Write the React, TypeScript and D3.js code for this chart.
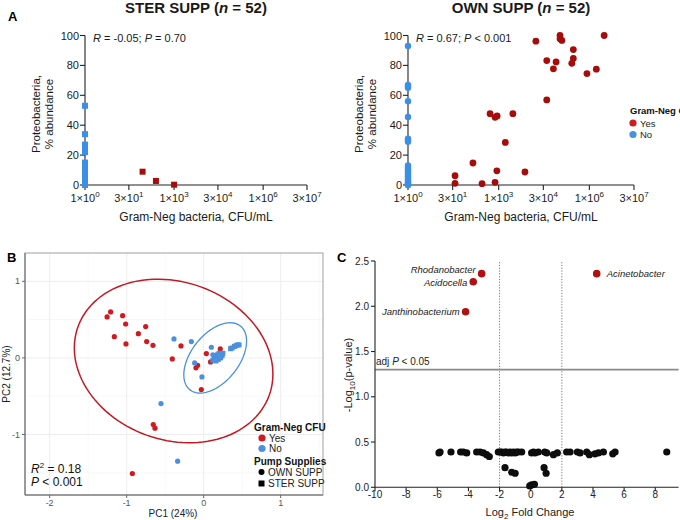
import React from 'react';
import * as d3 from 'd3';

// ---------- Panel A data ----------
const xTickVals = [1, 30, 1000, 3e4, 1e6, 3e7];
const xTickMant = ['1', '3', '1', '3', '1', '3'];
const xTickExp = ['0', '1', '3', '4', '6', '7'];
const yTicksA = [0, 20, 40, 60, 80, 100];

const sterNoY = [53, 34, 27, 26, 25, 24, 23, 22, 15, 14.5, 14, 13.5, 13, 12.5, 12, 11.5, 11, 10.5, 10, 9.5, 9, 8.5, 8, 7.5, 7, 6.5, 6, 5.5, 5, 4.5, 4, 3.5, 3, 2.5, 2, 1.8, 1.5, 1.2, 1, 0.8, 0.6, 0.5, 0.4, 0.3, 0.2, 0.1, 0, 0, 0];
const sterYesX = [87, 245, 1000];
const sterYesY = [8.9, 2.7, 0.2];

const ownNoY = [93, 67, 66, 65, 56, 45.5, 31, 30, 29, 13, 12, 11, 10, 9, 8, 7, 6, 5, 4, 3, 2, 1.5, 1, 0.5, 0, 0];
const ownYesX = [36, 36, 141, 282, 519, 760, 890, 760, 870, 1660, 2950, 7400, 17000, 38900, 38900, 64600, 79400, 107000, 107000, 123000, 295000, 295000, 263000, 832000, 1700000, 3090000];
const ownYesY = [6.2, 1.1, 14.7, 0.9, 47.7, 45.3, 46.2, 1.8, 9.5, 28.5, 47.7, 8.7, 96.2, 83.2, 56.9, 77.7, 82.3, 100, 97.8, 96.7, 90.6, 84.6, 81.4, 74.5, 77.5, 100];

// ---------- Panel B data (PCA) ----------
const pcaYesX = [-1.254, -1.208, -1.052, -1.013, -1.16, -1.009, -0.848, -0.753, -0.74, -0.658, -0.294, -0.407, 0.035, -0.078, -0.1, 0.09, 0.216, -0.03, -0.654, -0.632, -0.926];
const pcaYesY = [0.535, 0.6, 0.552, 0.443, 0.278, 0.183, 0.317, 0.409, 0.213, 0.165, 0.157, -0.013, 0.057, -0.096, -0.13, -0.052, 0.117, -0.413, -0.87, -0.917, -1.509];
const pcaNoOwnX = [-0.385, -0.16, -0.117, -0.022, -0.554, -0.338, 0.1, 0.12, 0.16, 0.2];
const pcaNoOwnY = [0.248, 0.213, -0.065, -0.248, -0.596, -1.348, 0.139, 0.04, -0.02, 0.05];
const pcaNoSterX = [0.12, 0.14, 0.15, 0.17, 0.18, 0.19, 0.2, 0.21, 0.22, 0.23, 0.24, 0.25, 0.22, 0.18, 0.16, 0.2, 0.35, 0.37, 0.4, 0.42, 0.44, 0.46];
const pcaNoSterY = [-0.03, -0.01, 0.0, 0.01, 0.02, -0.02, 0.03, 0.04, 0.01, 0.05, 0.03, 0.06, 0.0, 0.04, -0.04, 0.06, 0.12, 0.13, 0.15, 0.16, 0.17, 0.17];
// ellipses: [cx, cy, semi-major, semi-minor, angle deg]
const ellipseYes = [-0.39, -0.04, 1.32, 1.03, -20];
const ellipseNo = [0.15, 0.0, 0.53, 0.31, 52];

// ---------- Panel C data (volcano) ----------
const sigFC = [-3.15, -3.69, -4.18, 4.24];
const sigP = [2.36, 2.27, 1.94, 2.36];
const sigNames = ['Rhodanobacter', 'Acidocella', 'Janthinobacterium', 'Acinetobacter'];
const nsFC = [
  -5.89, -5.82, -5.12, -4.5, -4.33, -4.11, -3.47, -3.25, -3.04, -2.83,
  -2.66, -2.08, -1.96, -1.86, -1.75, -1.65, -1.54, -1.43, -1.32, -1.22,
  -1.1, -1.0, -0.9, -0.79, -0.58, 0.06, 0.18, 0.28, 0.49, 0.9,
  1.03, 1.46, 1.71, 2.31, 2.53, 3.0, 3.17, 3.6, 3.77, 4.13,
  4.35, 4.67, 5.27, 5.42, 8.74, -1.65, -1.22, -1.0, 0.86, 0.99,
  -0.06, 0.06, 0.24];
const nsP = [
  0.38, 0.39, 0.39, 0.39, 0.39, 0.38, 0.39, 0.39, 0.38, 0.36,
  0.34, 0.39, 0.39, 0.39, 0.38, 0.39, 0.39, 0.38, 0.39, 0.38,
  0.39, 0.38, 0.39, 0.39, 0.39, 0.38, 0.39, 0.38, 0.39, 0.39,
  0.38, 0.36, 0.38, 0.39, 0.39, 0.39, 0.38, 0.39, 0.36, 0.37,
  0.38, 0.39, 0.37, 0.39, 0.39, 0.217, 0.166, 0.155, 0.217, 0.155,
  0.015, 0.026, 0.033];
const xTicksC = [-10, -8, -6, -4, -2, 0, 2, 4, 6, 8];
const yTicksC = [0, 0.5, 1, 1.5, 2, 2.5];

const FONT = 'Liberation Sans, Arial, Helvetica, sans-serif';
const RED_A = '#a50d0d';
const BLUE_A = '#3b8fe6';
const RED_B = '#cf1b20';
const BLUE_B = '#4a90dc';

function PanelA({ left, right, title, ann, mode }: any) {
  const x = d3.scaleLog().domain([1, 3e7]).range([left, right]);
  const y = d3.scaleLinear().domain([0, 100]).range([185, 35.5]);
  const cx = (left + right) / 2;
  return (
    <g fontFamily={FONT} fill="#1a1a1a">
      <text x={cx} y={13} textAnchor="middle" fontWeight="bold" fontSize={15}>
        {title} (<tspan fontStyle="italic">n</tspan> = 52)
      </text>
      <line x1={left} x2={left} y1={y(0)} y2={y(100)} stroke="#222" strokeWidth={1.1} />
      <line x1={left} x2={right} y1={y(0)} y2={y(0)} stroke="#222" strokeWidth={1.1} />
      {yTicksA.map((t) => (
        <g key={t}>
          <line x1={left - 5} x2={left} y1={y(t)} y2={y(t)} stroke="#222" strokeWidth={1.1} />
          <text x={left - 6} y={y(t) + 4} textAnchor="end" fontSize={11}>{t}</text>
        </g>
      ))}
      {xTickVals.map((t, i) => (
        <g key={t}>
          <line x1={x(t)} x2={x(t)} y1={y(0)} y2={y(0) + 5} stroke="#222" strokeWidth={1.1} />
          <text x={x(t)} y={202} textAnchor="middle" fontSize={11}>
            {xTickMant[i]}×10<tspan dy={-5} fontSize={8}>{xTickExp[i]}</tspan>
          </text>
        </g>
      ))}
      <text x={cx} y={221} textAnchor="middle" fontSize={12}>Gram-Neg bacteria, CFU/mL</text>
      <text transform={`translate(${left - 45},${114}) rotate(-90)`} textAnchor="middle" fontSize={11.5}>Proteobacteria,</text>
      <text transform={`translate(${left - 32},${114}) rotate(-90)`} textAnchor="middle" fontSize={11.5}>% abundance</text>
      <text x={left + 8} y={42} fontSize={11}>
        <tspan fontStyle="italic">R</tspan>{ann[0]}<tspan fontStyle="italic">P</tspan>{ann[1]}
      </text>
      {mode === 'ster' ? (
        <g>
          {sterNoY.map((v, i) => (
            <rect key={'n' + i} x={x(1) - 3} y={y(v) - 3} width={6} height={6} fill={BLUE_A} />
          ))}
          {sterYesX.map((v, i) => (
            <rect key={'y' + i} x={x(v) - 3} y={y(sterYesY[i]) - 3} width={6} height={6} fill={RED_A} />
          ))}
        </g>
      ) : (
        <g>
          {ownNoY.map((v, i) => (
            <circle key={'n' + i} cx={x(1)} cy={y(v)} r={3.2} fill={BLUE_A} />
          ))}
          {ownYesX.map((v, i) => (
            <circle key={'y' + i} cx={x(v)} cy={y(ownYesY[i])} r={3.4} fill={RED_A} />
          ))}
        </g>
      )}
    </g>
  );
}

function ellipsePath(p: number[], xs: any, ys: any) {
  const [cx, cy, a, b, ang] = p;
  const phi = (ang * Math.PI) / 180;
  const pts = d3.range(0, 361, 3).map((deg) => {
    const t = (deg * Math.PI) / 180;
    const dx = a * Math.cos(t) * Math.cos(phi) - b * Math.sin(t) * Math.sin(phi);
    const dy = a * Math.cos(t) * Math.sin(phi) + b * Math.sin(t) * Math.cos(phi);
    return [xs(cx + dx), ys(cy + dy)] as [number, number];
  });
  return d3.line().curve(d3.curveLinearClosed)(pts) as string;
}

function PanelB() {
  const L = 25, R = 323, T = 253, B = 495;
  const x = d3.scaleLinear().domain([-2.32, 1.55]).range([L, R]);
  const y = d3.scaleLinear().domain([-1.79, 1.37]).range([B, T]);
  const majX = [-2, -1, 0, 1];
  const minX = [-1.5, -0.5, 0.5, 1.5];
  const majY = [-1, 0, 1];
  const minY = [-1.5, -0.5, 0.5];
  return (
    <g fontFamily={FONT}>
      {minX.map((t) => <line key={'mx' + t} x1={x(t)} x2={x(t)} y1={T} y2={B} stroke="#f3f3f3" strokeWidth={0.6} />)}
      {minY.map((t) => <line key={'my' + t} x1={L} x2={R} y1={y(t)} y2={y(t)} stroke="#f3f3f3" strokeWidth={0.6} />)}
      {majX.map((t) => <line key={'gx' + t} x1={x(t)} x2={x(t)} y1={T} y2={B} stroke="#ebebeb" strokeWidth={0.9} />)}
      {majY.map((t) => <line key={'gy' + t} x1={L} x2={R} y1={y(t)} y2={y(t)} stroke="#ebebeb" strokeWidth={0.9} />)}
      <rect x={L} y={T} width={R - L} height={B - T} fill="none" stroke="#a0a0a0" strokeWidth={1} />
      <line x1={L} x2={L} y1={T} y2={B} stroke="#666" strokeWidth={1} />
      <line x1={L} x2={R} y1={B} y2={B} stroke="#666" strokeWidth={1} />
      {majX.map((t) => (
        <g key={'tx' + t}>
          <line x1={x(t)} x2={x(t)} y1={B} y2={B + 3} stroke="#666" />
          <text x={x(t)} y={B + 11} textAnchor="middle" fontSize={9} fill="#555">{t}</text>
        </g>
      ))}
      {majY.map((t) => (
        <g key={'ty' + t}>
          <line x1={L - 3} x2={L} y1={y(t)} y2={y(t)} stroke="#666" />
          <text x={L - 5} y={y(t) + 3} textAnchor="end" fontSize={9} fill="#555">{t}</text>
        </g>
      ))}
      <text x={(L + R) / 2 - 1} y={517} textAnchor="middle" fontSize={10} fill="#222">PC1 (24%)</text>
      <text transform={`translate(10,${(T + B) / 2}) rotate(-90)`} textAnchor="middle" fontSize={10} fill="#222">PC2 (12.7%)</text>
      <path d={ellipsePath(ellipseYes, x, y)} fill="none" stroke="#c21a24" strokeWidth={1.5} />
      <path d={ellipsePath(ellipseNo, x, y)} fill="none" stroke="#4a90d6" strokeWidth={1.3} />
      {pcaYesX.map((v, i) => <circle key={'r' + i} cx={x(v)} cy={y(pcaYesY[i])} r={2.6} fill={RED_B} />)}
      {pcaNoOwnX.map((v, i) => <circle key={'b' + i} cx={x(v)} cy={y(pcaNoOwnY[i])} r={2.6} fill={BLUE_B} />)}
      {pcaNoSterX.map((v, i) => <rect key={'s' + i} x={x(v) - 2.5} y={y(pcaNoSterY[i]) - 2.5} width={5} height={5} fill={BLUE_B} />)}
      <text x={31} y={473} fontSize={12} fill="#111">
        <tspan fontStyle="italic">R</tspan><tspan dy={-5} fontSize={8}>2</tspan><tspan dy={5}> = 0.18</tspan>
      </text>
      <text x={31} y={486} fontSize={12} fill="#111">
        <tspan fontStyle="italic">P</tspan> &lt; 0.001
      </text>
      <text x={254} y={430.5} fontSize={10} fontWeight="bold" fill="#111">Gram-Neg CFU</text>
      <circle cx={262} cy={438} r={3.6} fill={RED_B} />
      <text x={269} y={441.5} fontSize={10} fill="#222">Yes</text>
      <circle cx={262} cy={448.5} r={3.6} fill={BLUE_B} />
      <text x={269} y={452} fontSize={10} fill="#222">No</text>
      <text x={254} y={464.5} fontSize={10} fontWeight="bold" fill="#111">Pump Supplies</text>
      <circle cx={261.5} cy={472} r={3} fill="#000" />
      <text x={268} y={475.5} fontSize={10} fill="#222">OWN SUPP</text>
      <rect x={258.5} y={480.5} width={6} height={6} fill="#000" />
      <text x={268} y={487} fontSize={10} fill="#222">STER SUPP</text>
    </g>
  );
}

function PanelC() {
  const x = d3.scaleLinear().domain([-10, 9.5]).range([375, 678.6]);
  const y = d3.scaleLinear().domain([0, 2.5]).range([487.3, 261]);
  const labelShift = (i: number) => (i === 0 ? -4.5 : i === 1 ? 0.5 : 0);
  return (
    <g fontFamily={FONT} fill="#222">
      <line x1={x(-2)} x2={x(-2)} y1={y(0)} y2={y(2.5)} stroke="#555" strokeWidth={0.8} strokeDasharray="1.2,1.6" />
      <line x1={x(2)} x2={x(2)} y1={y(0)} y2={y(2.5)} stroke="#555" strokeWidth={0.8} strokeDasharray="1.2,1.6" />
      <line x1={x(-10)} x2={x(9.5)} y1={y(1.3)} y2={y(1.3)} stroke="#8a8a8a" strokeWidth={1.8} />
      <text x={376} y={y(1.3) - 5} fontSize={10}>adj <tspan fontStyle="italic">P</tspan> &lt; 0.05</text>
      <line x1={x(-10)} x2={x(-10)} y1={y(0)} y2={y(2.5)} stroke="#222" strokeWidth={1.1} />
      <line x1={x(-10)} x2={x(9.5)} y1={y(0)} y2={y(0)} stroke="#222" strokeWidth={1.1} />
      {yTicksC.map((t) => (
        <g key={'y' + t}>
          <line x1={x(-10) - 4} x2={x(-10)} y1={y(t)} y2={y(t)} stroke="#222" strokeWidth={1.1} />
          <text x={x(-10) - 6} y={y(t) + 3.5} textAnchor="end" fontSize={10}>{d3.format('.1f')(t)}</text>
        </g>
      ))}
      {xTicksC.map((t) => (
        <g key={'x' + t}>
          <line x1={x(t)} x2={x(t)} y1={y(0)} y2={y(0) + 4} stroke="#222" strokeWidth={1.1} />
          <text x={x(t)} y={498} textAnchor="middle" fontSize={10}>{t}</text>
        </g>
      ))}
      <text x={530} y={516} textAnchor="middle" fontSize={11}>
        Log<tspan dy={3} fontSize={8}>2</tspan><tspan dy={-3}> Fold Change</tspan>
      </text>
      <text transform={`translate(352,375) rotate(-90)`} textAnchor="middle" fontSize={11}>
        -Log<tspan dy={3} fontSize={8}>10</tspan><tspan dy={-3}>(p-value)</tspan>
      </text>
      {nsFC.map((v, i) => <circle key={'n' + i} cx={x(v)} cy={y(nsP[i])} r={3.6} fill="#0d0d0d" />)}
      {sigFC.map((v, i) => (
        <g key={'s' + i}>
          <circle cx={x(v)} cy={y(sigP[i])} r={3.8} fill="#b01212" />
          <text x={v < 0 ? x(v) - 6 : x(v) + 10} y={y(sigP[i]) + 3.5 + labelShift(i)} textAnchor={v < 0 ? 'end' : 'start'} fontSize={9.5} fontStyle="italic">{sigNames[i]}</text>
        </g>
      ))}
    </g>
  );
}

export default function App() {
  return (
    <svg width={680} height={520} viewBox="0 0 680 520" style={{ position: 'absolute', left: 0, top: 0, background: '#fff' }}>
      <rect x={0} y={0} width={680} height={520} fill="#fff" />
      <text x={8} y={21} fontFamily={FONT} fontWeight="bold" fontSize={13}>A</text>
      <text x={7} y={262} fontFamily={FONT} fontWeight="bold" fontSize={13}>B</text>
      <text x={337} y={262} fontFamily={FONT} fontWeight="bold" fontSize={13}>C</text>
      <PanelA left={85} right={307} title="STER SUPP" ann={[' = -0.05; ', ' = 0.70']} mode="ster" />
      <PanelA left={408} right={634} title="OWN SUPP" ann={[' = 0.67; ', ' < 0.001']} mode="own" />
      <g fontFamily={FONT}>
        <text x={630} y={114} fontSize={9.5} fontWeight="bold" fill="#111">Gram-Neg CFU</text>
        <circle cx={633} cy={123} r={3.6} fill={RED_B} />
        <text x={640} y={126.5} fontSize={9.5} fill="#222">Yes</text>
        <circle cx={633} cy={134.5} r={3.6} fill={BLUE_B} />
        <text x={640} y={138} fontSize={9.5} fill="#222">No</text>
      </g>
      <PanelB />
      <PanelC />
    </svg>
  );
}
